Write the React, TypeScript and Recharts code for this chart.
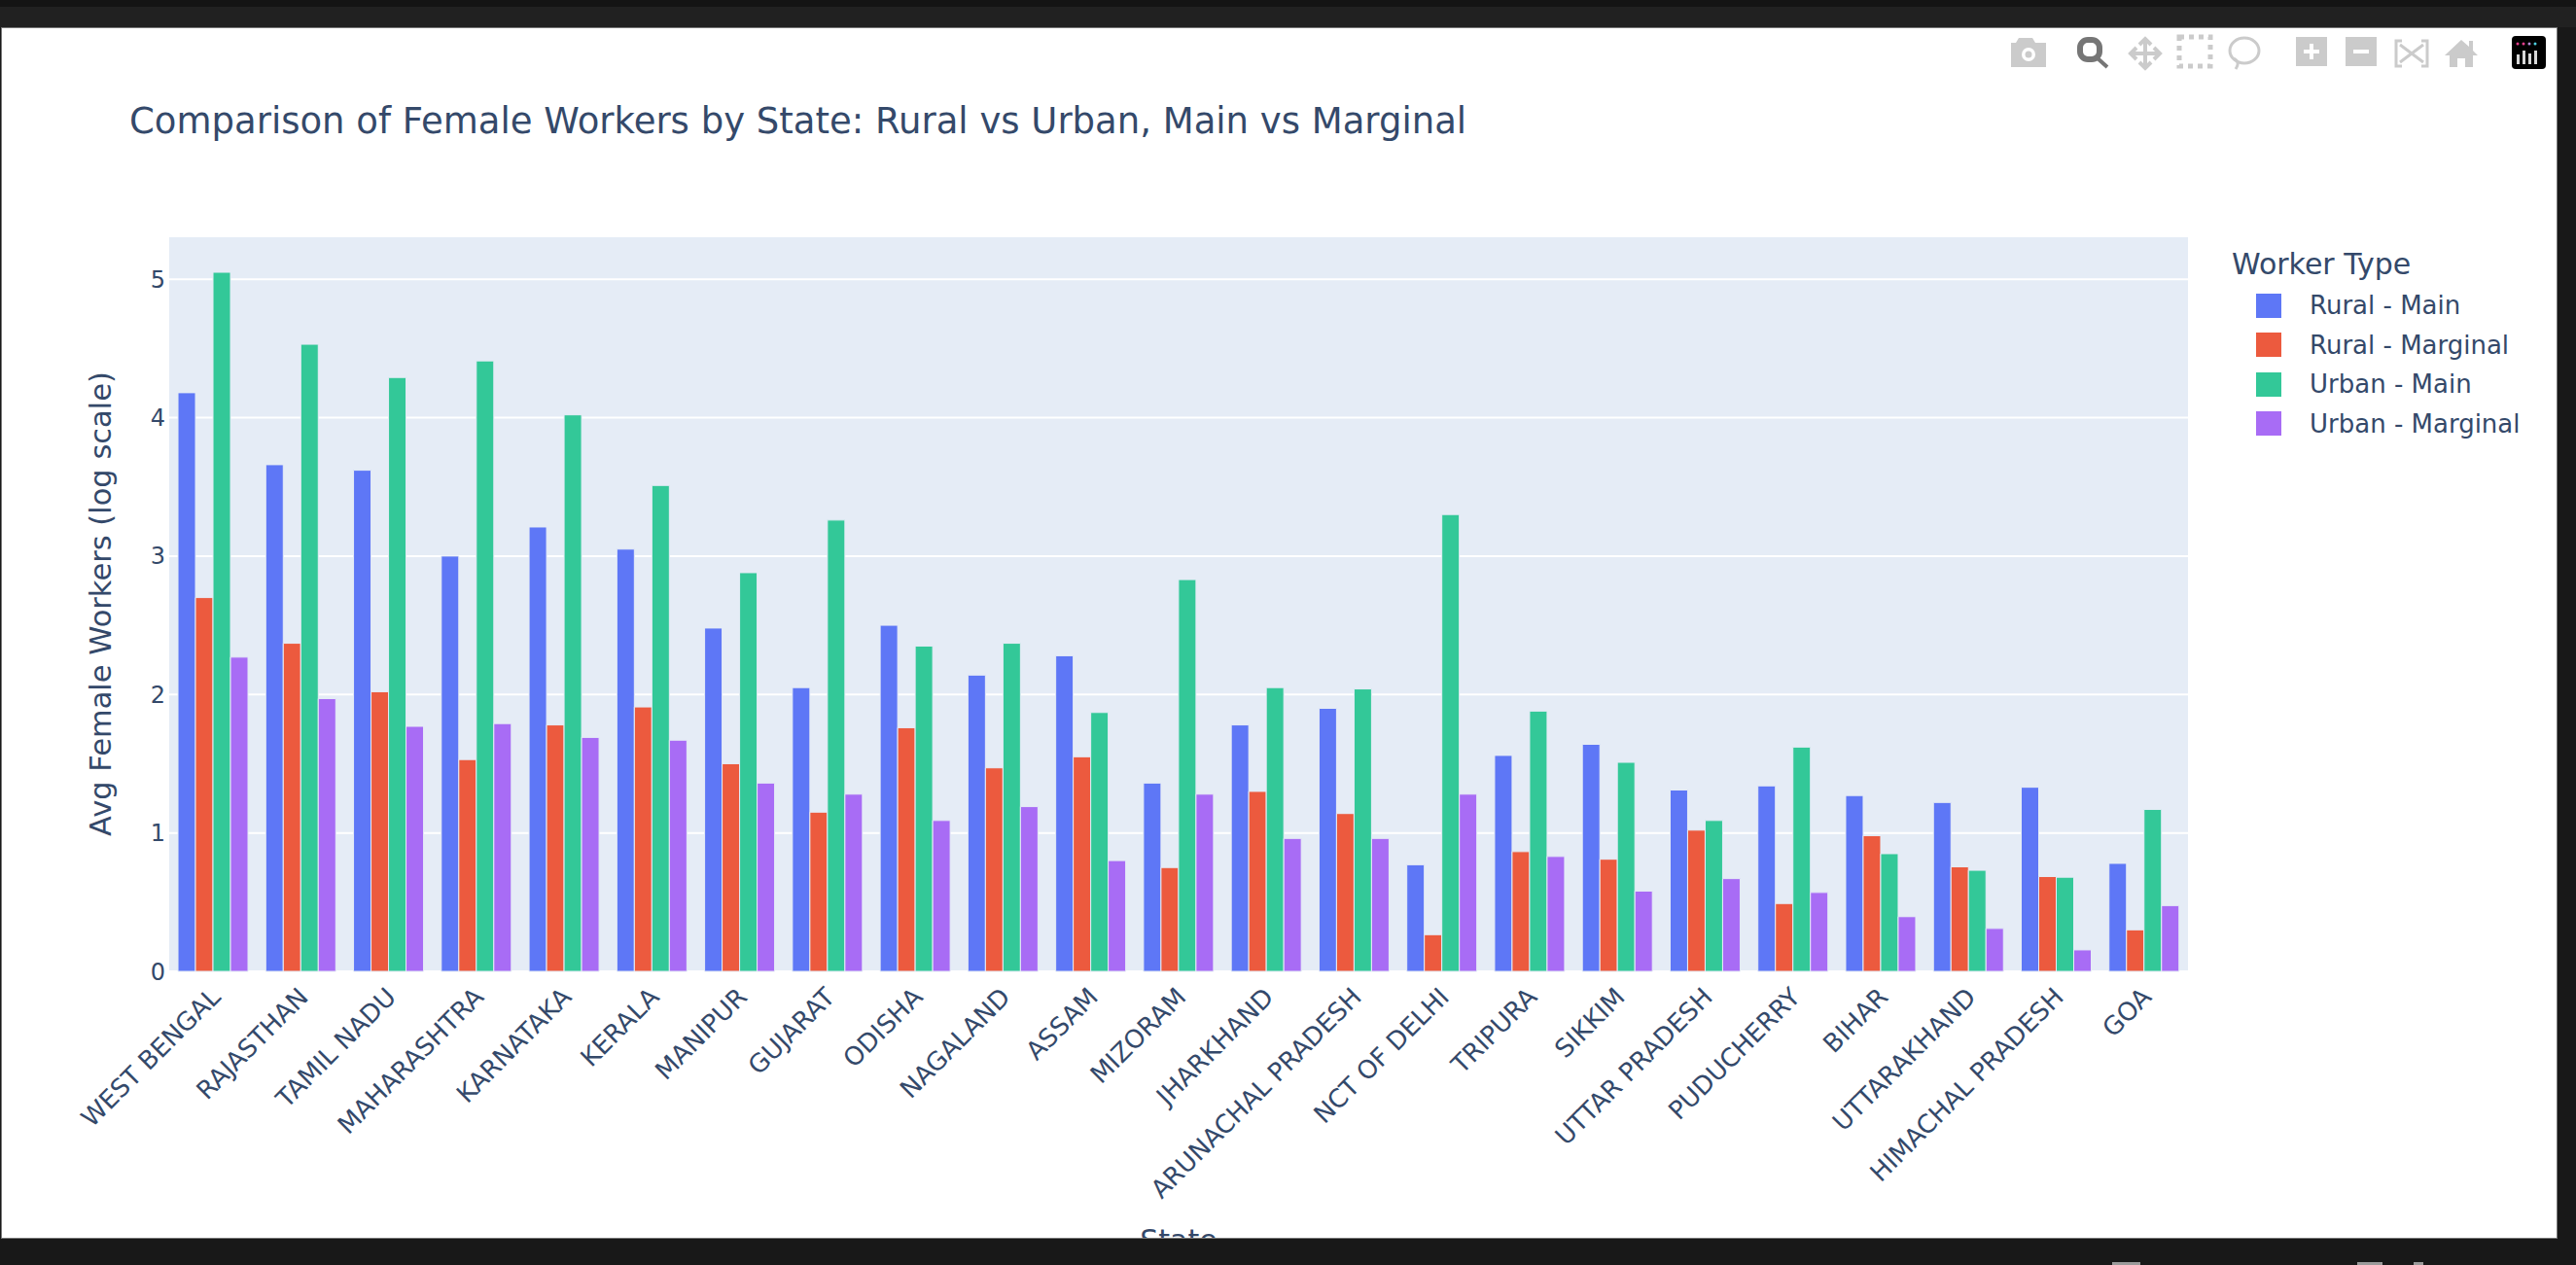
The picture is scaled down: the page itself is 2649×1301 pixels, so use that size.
import React from 'react';
import { BarChart, Bar, XAxis, YAxis, CartesianGrid, Legend } from 'recharts';

const states = ['WEST BENGAL', 'RAJASTHAN', 'TAMIL NADU', 'MAHARASHTRA', 'KARNATAKA', 'KERALA', 'MANIPUR', 'GUJARAT', 'ODISHA', 'NAGALAND', 'ASSAM', 'MIZORAM', 'JHARKHAND', 'ARUNACHAL PRADESH', 'NCT OF DELHI', 'TRIPURA', 'SIKKIM', 'UTTAR PRADESH', 'PUDUCHERRY', 'BIHAR', 'UTTARAKHAND', 'HIMACHAL PRADESH', 'GOA'];
const ruralMain = [4.18, 3.66, 3.62, 3.0, 3.21, 3.05, 2.48, 2.05, 2.5, 2.14, 2.28, 1.36, 1.78, 1.9, 0.77, 1.56, 1.64, 1.31, 1.34, 1.27, 1.22, 1.33, 0.78];
const ruralMarginal = [2.7, 2.37, 2.02, 1.53, 1.78, 1.91, 1.5, 1.15, 1.76, 1.47, 1.55, 0.75, 1.3, 1.14, 0.265, 0.865, 0.81, 1.02, 0.49, 0.98, 0.755, 0.685, 0.3];
const urbanMain = [5.05, 4.53, 4.29, 4.41, 4.02, 3.51, 2.88, 3.26, 2.35, 2.37, 1.87, 2.83, 2.05, 2.04, 3.3, 1.88, 1.51, 1.09, 1.62, 0.85, 0.73, 0.68, 1.17];
const urbanMarginal = [2.27, 1.97, 1.77, 1.79, 1.69, 1.67, 1.36, 1.28, 1.09, 1.19, 0.8, 1.28, 0.96, 0.96, 1.28, 0.83, 0.58, 0.67, 0.57, 0.395, 0.31, 0.155, 0.475];
const yTicks = [0, 1, 2, 3, 4, 5];

const data = states.map((state, i) => ({
  state,
  ruralMain: ruralMain[i],
  ruralMarginal: ruralMarginal[i],
  urbanMain: urbanMain[i],
  urbanMarginal: urbanMarginal[i],
}));

const INK = '#34496a';
const FONT = '"DejaVu Sans", sans-serif';
const ICON = '#cbcbcb';

const StateTick = ({ x, y, payload }: any) => (
  <text
    x={x + 9}
    y={y + 20}
    transform={`rotate(-45 ${x + 9} ${y + 20})`}
    textAnchor="end"
    fontFamily={FONT}
    fontSize={26}
    fill={INK}
  >
    {payload.value}
  </text>
);

const WorkerLegend = ({ payload }: any) => (
  <div style={{ fontFamily: FONT, color: INK, position: 'relative', width: 320, height: 190 }}>
    <div style={{ position: 'absolute', left: 0, top: 0, fontSize: 30, whiteSpace: 'nowrap' }}>Worker Type</div>
    {(payload || []).map((item: any, i: number) => (
      <div key={item.value} style={{ position: 'absolute', left: 25, top: 47 + i * 40.6, display: 'flex', alignItems: 'center', height: 26 }}>
        <div style={{ width: 26, height: 25, background: item.color, marginRight: 29 }} />
        <span style={{ fontSize: 26, whiteSpace: 'nowrap' }}>{item.value}</span>
      </div>
    ))}
  </div>
);

// plotly mode bar, drawn in page coordinates
const ModeBar = () => (
  <svg width={2649} height={100} style={{ position: 'absolute', left: -2, top: -29 }}>
    <path d="M2076 39h14l3 5h11v25h-36V44h5z" fill={ICON} />
    <circle cx={2086} cy={56} r={7} fill="#fff" />
    <circle cx={2086} cy={56} r={3.5} fill={ICON} />
    <g fill="none" stroke="#767676">
      <rect x={2139} y={41} width={20} height={20} rx={8} strokeWidth={6} />
      <path d="M2157 60l10 9" strokeWidth={4} />
    </g>
    <g fill="none" stroke={ICON} strokeWidth={4}>
      <path d="M2206 40v30M2191 55h30" />
      <path d="M2200 46l6-6 6 6M2200 64l6 6 6-6M2197 49l-6 6 6 6M2215 49l6 6-6 6" />
      <rect x={2241} y={38} width={32} height={30} strokeDasharray="5 5" strokeWidth={5} />
      <ellipse cx={2308} cy={52} rx={15} ry={13} strokeWidth={3} />
      <path d="M2297 60c4 2 6 5 2 11" strokeWidth={3} />
      <path d="M2470 42h-6v26h6M2490 42h6v26h-6M2468 46l24 18M2492 46l-24 18" strokeWidth={3} />
    </g>
    <g fill={ICON}>
      <rect x={2361} y={38} width={32} height={30} />
      <rect x={2412} y={38} width={32} height={30} />
      <path d="M2531 41l8 7v-6h4v10l5 5h-5v12h-8v-9h-8v9h-8V57h-5z" />
    </g>
    <path d="M2369 53h16M2377 45v16M2420 53h16" stroke="#fff" strokeWidth={4} />
    <rect x={2583} y={37} width={35} height={34} rx={4} fill="#000" />
    <g fill="#d8d8d8">
      <rect x={2588} y={56} width={3} height={10} />
      <rect x={2594} y={52} width={3} height={14} />
      <rect x={2600} y={55} width={3} height={11} />
      <rect x={2606} y={52} width={3} height={14} />
    </g>
    <circle cx={2589} cy={45} r={1.5} fill="#e83e8c" />
    <circle cx={2595} cy={45} r={1.5} fill="#e83e8c" />
    <circle cx={2601} cy={45} r={1.5} fill="#b58bd8" />
    <circle cx={2607} cy={45} r={1.5} fill="#4dd0e1" />
  </svg>
);

export default function App() {
  return (
    <div style={{ position: 'fixed', left: 0, top: 0, width: 2649, height: 1301, background: '#181818', overflow: 'hidden' }}>
      <div style={{ position: 'absolute', left: 0, top: 0, width: 2649, height: 28, background: '#212121', borderTop: '7px solid #141414', boxSizing: 'border-box' }} />
      {[[2172, 29], [2424, 26], [2482, 10]].map(([x, w]) => (
        <div key={x} style={{ position: 'absolute', left: x, top: 1298, width: w, height: 3, background: '#9a9a9a' }} />
      ))}
      <div style={{ position: 'absolute', left: 2, top: 29, width: 2627, height: 1244, background: '#fff', overflow: 'hidden', outline: '1px solid #777' }}>
        <div style={{ position: 'absolute', left: 131, top: 74, fontFamily: FONT, fontSize: 37, color: INK, whiteSpace: 'nowrap', zIndex: 2 }}>
          Comparison of Female Workers by State: Rural vs Urban, Main vs Marginal
        </div>
        <ModeBar />
        <BarChart
          width={2627}
          height={1244}
          data={data}
          barCategoryGap="10%"
          barGap={0}
          margin={{ top: 214, right: 59, bottom: 0, left: 82 }}
        >
          <CartesianGrid vertical={false} fill="#E5ECF6" stroke="#fff" strokeWidth={2} />
          <XAxis
            dataKey="state"
            interval={0}
            height={274}
            tick={<StateTick />}
            tickLine={false}
            axisLine={false}
            label={{ value: 'State', position: 'insideBottom', offset: -13, fontFamily: FONT, fontSize: 30, fill: INK }}
          />
          <YAxis
            width={90}
            domain={[0, 5.31]}
            ticks={yTicks}
            tickLine={false}
            axisLine={false}
            tickSize={0}
            tickMargin={4}
            tick={{ fontFamily: FONT, fontSize: 24, fill: INK }}
            label={{ value: 'Avg Female Workers (log scale)', angle: -90, position: 'insideLeft', offset: 19, dy: 0, style: { textAnchor: 'middle' }, fontFamily: FONT, fontSize: 30.5, fill: INK }}
          />
          <Legend
            layout="vertical"
            align="right"
            verticalAlign="top"
            content={<WorkerLegend />}
            wrapperStyle={{ left: 2293, top: 225, width: 320 }}
          />
          <Bar dataKey="ruralMain" name="Rural - Main" fill="#5E77F6" stroke="#E5ECF6" isAnimationActive={false} />
          <Bar dataKey="ruralMarginal" name="Rural - Marginal" fill="#EC5A3E" stroke="#E5ECF6" isAnimationActive={false} />
          <Bar dataKey="urbanMain" name="Urban - Main" fill="#33C898" stroke="#E5ECF6" isAnimationActive={false} />
          <Bar dataKey="urbanMarginal" name="Urban - Marginal" fill="#A86CF5" stroke="#E5ECF6" isAnimationActive={false} />
        </BarChart>
      </div>
    </div>
  );
}
